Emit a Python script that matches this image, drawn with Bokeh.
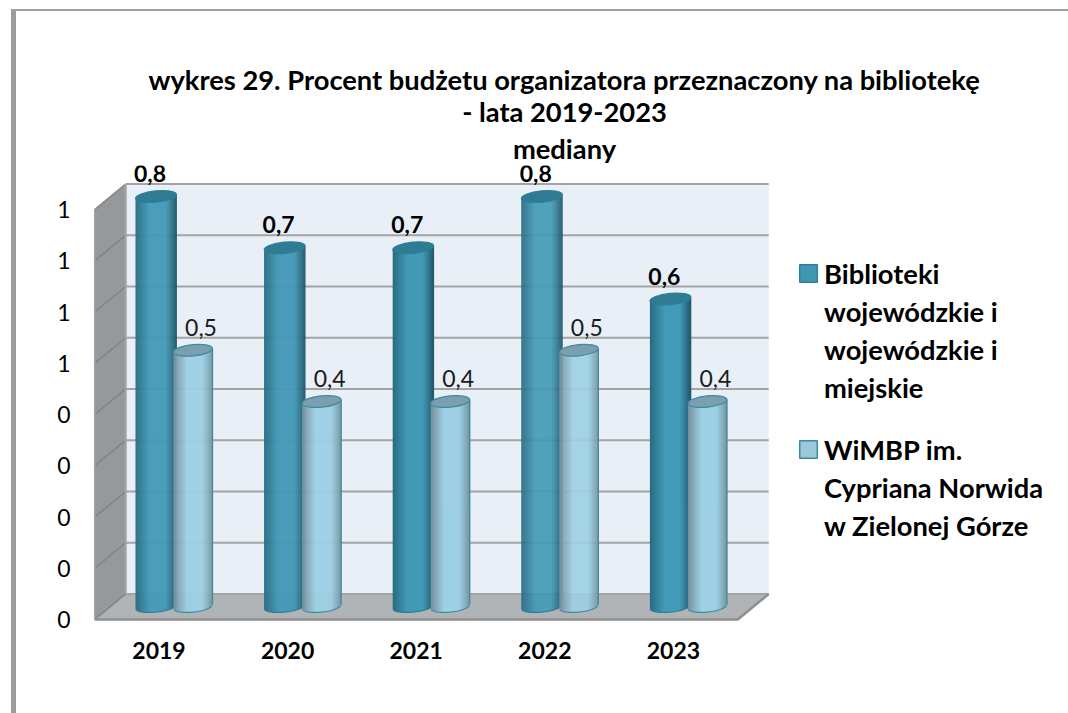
from bokeh.core.properties import value
from bokeh.embed import file_html
from bokeh.models import ColumnDataSource, FixedTicker, Legend, LegendItem, NumeralTickFormatter, Range1d, Title
from bokeh.plotting import figure
from bokeh.resources import INLINE
import math

years = ["2019", "2020", "2021", "2022", "2023"]
series_a_lines = ["Biblioteki", "wojewódzkie i", "wojewódzkie i", "miejskie"]
series_b_lines = ["WiMBP im.", "Cypriana Norwida", "w Zielonej Górze"]
series_a = [0.8, 0.7, 0.7, 0.8, 0.6]
series_b = [0.5, 0.4, 0.4, 0.5, 0.4]
y_ticks = [0, 0.1, 0.2, 0.3, 0.4, 0.5, 0.6, 0.7, 0.8]
title_lines = ["wykres 29. Procent budżetu organizatora przeznaczony na bibliotekę",
               "- lata 2019-2023", "mediany"]

FONT = "Lato"
FS = "23px"
FS_TXT = "27.3px"
# pixel calibration of the data scales
PXX = 1 / 128.6      # one screen px in x data units
PXY = 1 / 512.5      # one screen px in y data units
FRAME_W, FRAME_H = 976, 466
X0 = -82.5 * PXX     # data x at the left of the frame
Y0 = -12 * PXY       # data y at the bottom of the frame

p = figure(frame_width=FRAME_W, frame_height=FRAME_H, output_backend="svg", toolbar_location=None,
           min_border_left=60, min_border_top=154, min_border_bottom=82, min_border_right=16,
           x_range=Range1d(X0, X0 + FRAME_W * PXX), y_range=Range1d(Y0, Y0 + FRAME_H * PXY),
           background_fill_color="white", border_fill_color="white", outline_line_color=None)
p.styles = {"border-left": "5px solid #9c9c9c", "border-top": "2px solid #a2a2a2", "margin-left": "11px",
            "margin-top": "9px", "box-sizing": "border-box"}
p.grid.visible = False

for line, standoff in zip(reversed(title_lines), [2, 1, -7]):
    p.add_layout(Title(text=line, align="center", standoff=standoff, text_font=FONT, text_font_size=FS_TXT,
                       text_font_style="bold", text_color="black"), "above")

# axes
p.xaxis.ticker = FixedTicker(ticks=list(range(len(years))))
p.xaxis.major_label_overrides = {i: y for i, y in enumerate(years)}
p.xaxis.axis_line_color = None
p.xaxis.major_tick_line_color = None
p.xaxis.minor_tick_line_color = None
p.xaxis.major_label_standoff = 4
p.xaxis.major_label_text_font = FONT
p.xaxis.major_label_text_font_size = FS
p.xaxis.major_label_text_font_style = "bold"
p.xaxis.major_label_text_color = "black"

p.yaxis.ticker = FixedTicker(ticks=y_ticks)
p.yaxis.formatter = NumeralTickFormatter(format="0")
p.yaxis.axis_line_color = None
p.yaxis.major_tick_line_color = None
p.yaxis.minor_tick_line_color = None
p.yaxis.major_label_standoff = 0
p.yaxis.major_label_text_font = FONT
p.yaxis.major_label_text_font_size = FS
p.yaxis.major_label_text_color = "black"

# pseudo-3D box
XL, XR = -0.5, len(years) - 0.5
DX, DY = 31 * PXX, 25.5 * PXY
top = y_ticks[-1] + DY
p.patch([XL + DX, XR + DX, XR + DX, XL + DX], [DY, DY, top, top], fill_color="#e8eff6", line_color=None)
p.patch([XL, XL + DX, XL + DX, XL], [0, DY, top, y_ticks[-1]], fill_color="#96989c", line_color=None)
p.patch([XL, XL + DX, XR + DX, XR], [0, DY, DY, 0], fill_color="#b1b4b7", line_color=None)
p.multi_line([[XL + DX, XR + DX] for v in y_ticks], [[v + DY, v + DY] for v in y_ticks],
             line_color="#a3a3a3", line_width=2)
p.multi_line([[XL, XL + DX] for v in y_ticks], [[v, v + DY] for v in y_ticks], line_color="#808285", line_width=1.5)
p.line([XL + DX, XL + DX], [DY, top], line_color="#a3a3a3", line_width=2)
p.line([XL, XR, XR + DX], [0, 0, DY], line_color="#8e8f91", line_width=2.5)
p.line([XL, XL], [0, y_ticks[-1]], line_color="#a3a3a3", line_width=1.5)


def hex_mix(c1, c2, t):
    a = [int(c1[i:i + 2], 16) for i in (1, 3, 5)]
    b = [int(c2[i:i + 2], 16) for i in (1, 3, 5)]
    return "#%02x%02x%02x" % tuple(round(x + (y - x) * t) for x, y in zip(a, b))


def cylinders(values, off_px, width_px, c_edge_l, c_mid, c_edge_r, c_top, c_line, right_edge=False):
    BASE = -13 * PXY        # cylinder base relative to the front floor line: up
    RY = 5.6                # vertical semi-axis, px
    SLOPE = 0.1             # tilt of the elliptic ends
    n = round(width_px)
    left, right, bottom, tops, colors = [], [], [], [], []
    arc_x, arc_y = [], []
    for i, v in enumerate(values):
        cx = i + off_px * PXX
        y_base = -BASE
        y_top = v + y_base
        ax, ay = [], []
        for k in range(n):
            u = (k + 0.5) / n * 2 - 1
            dx = u * width_px / 2
            sag = RY * math.sqrt(max(0, 1 - u * u))
            left.append(cx + (dx - 0.5) * PXX)
            right.append(cx + (dx + 0.9) * PXX)
            bottom.append(y_base + (SLOPE * dx - sag) * PXY)
            tops.append(y_top + SLOPE * dx * PXY)
            if u < -0.3:
                colors.append(hex_mix(c_edge_l, c_mid, min(1, (u + 1) / 0.7)))
            elif u < 0.45:
                colors.append(c_mid)
            else:
                colors.append(hex_mix(c_mid, c_edge_r, ((u - 0.45) / 0.55) ** 1.1))
            ax.append(cx + dx * PXX)
            ay.append(y_base + (SLOPE * dx - sag) * PXY)
        arc_x.append(ax)
        arc_y.append(ay)
    p.quad(left=left, right=right, bottom=bottom, top=tops, fill_color=colors, line_color=None)
    p.multi_line(arc_x, arc_y, line_color=c_line, line_width=1.2)
    xs = [i + off_px * PXX for i in range(len(values))]
    ys = [v - BASE for v in values]
    if right_edge:
        xe = [x + width_px / 2 * PXX for x in xs]
        p.segment(xe, [-BASE + SLOPE * width_px / 2 * PXY] * len(xs), xe, [y + SLOPE * width_px / 2 * PXY for y in ys],
                  line_color=c_line, line_width=1.3)
    p.ellipse(xs, ys, width=width_px, height=RY * 2, angle=math.atan(SLOPE), width_units="screen",
              height_units="screen", fill_color=c_top, line_color=c_line, line_width=1.2)
    return xs, ys


ax_, ay_ = cylinders(series_a, -3, 41, "#276b82", "#429ab7", "#205668", "#2f7b94", "#2c7f98")
bx_, by_ = cylinders(series_b, 34, 39, "#74909d", "#9dd0e5", "#75959f", "#7b9fae", "#3b8ba3", right_edge=True)

# data labels
lab = lambda vals: [f"{v:.1f}".replace(".", ",") for v in vals]
p.text([x - 6 * PXX for x in ax_], [y + 23 * PXY for y in ay_], text=lab(series_a), text_font=value(FONT),
       text_font_size=FS, text_font_style="bold", text_align="center", text_baseline="middle", text_color="black")
p.text([x + 8 * PXX for x in bx_], [y + 23 * PXY for y in by_], text=lab(series_b), text_font=value(FONT),
       text_font_size=FS, text_align="center", text_baseline="middle", text_color="#1a1a1a")

# legends: one per series, with the label wrapped over several items
nan = float("nan")
swatch = ColumnDataSource(data=dict(left=[nan], right=[nan], top=[nan], bottom=[nan]))
ra = p.quad(left="left", right="right", top="top", bottom="bottom", source=swatch, fill_color="#4097b3", line_color="#2f7f97", line_width=1.5)
rb = p.quad(left="left", right="right", top="top", bottom="bottom", source=swatch, fill_color="#9cc9da", line_color="#3b8ba3", line_width=1.5)


def make_legend(lines, renderer, loc):
    items = [LegendItem(label=t, renderers=[renderer] if k == 0 else []) for k, t in enumerate(lines)]
    return Legend(items=items, location=loc, margin=0, padding=0, spacing=0, glyph_width=22, glyph_height=22,
                  label_height=38, label_standoff=5, background_fill_alpha=0, border_line_alpha=0,
                  label_text_font=FONT, label_text_font_size=FS_TXT, label_text_font_style="bold",
                  label_text_color="black")


p.add_layout(make_legend(series_a_lines, ra, (721, 225)))
p.add_layout(make_legend(series_b_lines, rb, (721, 87)))

open("out.html", "w").write(file_html(p, INLINE))
